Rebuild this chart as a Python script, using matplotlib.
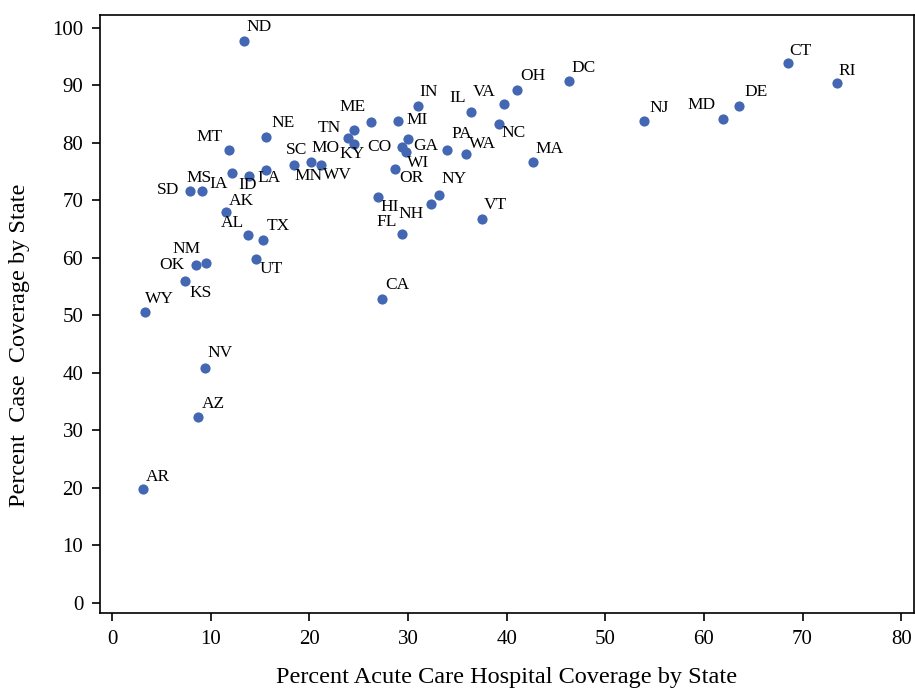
import matplotlib

matplotlib.use("Agg")
import matplotlib.pyplot as plt

# ---------- Data ----------
states = [
    "ND", "NE", "MT", "IA", "ID", "LA", "SD", "MS", "AK", "AL",
    "TX", "UT", "NM", "OK", "KS", "WY", "NV", "AZ", "AR", "SC",
    "MN", "WV", "TN", "MO", "KY", "ME", "MI", "GA", "CO", "WI",
    "OR", "HI", "FL", "NH", "NY", "VT", "CA", "IN", "IL", "VA",
    "OH", "NC", "PA", "WA", "MA", "DC", "NJ", "MD", "DE", "CT",
    "RI",
]
hospital_pct = [
    13.4, 15.6, 11.9, 12.2, 13.9, 15.6, 7.9, 9.1, 11.6, 13.8,
    15.3, 14.6, 9.5, 8.5, 7.4, 3.3, 9.4, 8.7, 3.1, 18.4,
    20.2, 21.2, 23.9, 24.5, 24.5, 26.3, 29.0, 30.0, 29.4, 29.8,
    28.7, 27.0, 29.4, 32.3, 33.1, 37.5, 27.4, 31.0, 36.4, 39.7,
    41.1, 39.2, 34.0, 35.9, 42.7, 46.3, 53.9, 61.9, 63.6, 68.5,
    73.5,
]
case_pct = [
    97.7, 81.1, 78.8, 74.8, 74.3, 75.3, 71.6, 71.7, 68.0, 63.9,
    63.1, 59.8, 59.1, 58.8, 55.9, 50.6, 40.8, 32.4, 19.8, 76.1,
    76.7, 76.1, 80.9, 82.3, 79.8, 83.6, 83.8, 80.6, 79.3, 78.4,
    75.5, 70.5, 64.1, 69.3, 71.0, 66.7, 52.9, 86.4, 85.4, 86.7,
    89.2, 83.2, 78.8, 78.1, 76.6, 90.8, 83.8, 84.2, 86.4, 93.8,
    90.4,
]

x_ticks = [0, 10, 20, 30, 40, 50, 60, 70, 80]
y_ticks = [0, 10, 20, 30, 40, 50, 60, 70, 80, 90, 100]

# ---------- Label placement (offsets from point, in points) ----------
LABEL_OFFSETS = {
    "ND": (11, 10), "NE": (12, 10), "MT": (-14, 9), "IA": (-10, -8),
    "ID": (-1, -7), "LA": (2, -6), "SD": (-16, 1), "MS": (-2, 9),
    "AK": (11, 8), "AL": (-11, 9), "TX": (11, 10), "UT": (11, -7),
    "NM": (-14, 10), "OK": (-17, 0), "KS": (11, -8), "WY": (11, 9),
    "NV": (11, 11), "AZ": (11, 9), "AR": (11, 9), "SC": (2, 11),
    "MN": (-2, -10), "WV": (12, -7), "TN": (-13, 7), "MO": (-20, -13),
    "KY": (-1, -7), "ME": (-14, 11), "MI": (14, 1), "GA": (13, -5),
    "CO": (-16, 0), "WI": (9, -8), "OR": (12, -7), "HI": (8, -7),
    "FL": (-11, 9), "NH": (-14, -7), "NY": (11, 11), "VT": (10, 10),
    "CA": (11, 10), "IN": (8, 10), "IL": (-10, 10), "VA": (-14, 9),
    "OH": (11, 10), "NC": (11, -6), "PA": (10, 11), "WA": (12, 7),
    "MA": (12, 10), "DC": (11, 9), "NJ": (11, 9), "MD": (-15, 10),
    "DE": (12, 10), "CT": (9, 9), "RI": (7, 9),
}

MARKER_COLOR = "#4467B3"
FONT = ["Liberation Serif", "DejaVu Serif"]

plt.rcParams["font.family"] = FONT

fig = plt.figure(figsize=(9.15, 6.88), dpi=100)
ax = fig.add_axes([0.1093, 0.109, 0.8896, 0.869])

ax.scatter(hospital_pct, case_pct, s=54, color=MARKER_COLOR, linewidths=0, zorder=3)

for name, xv, yv in zip(states, hospital_pct, case_pct):
    dx, dy = LABEL_OFFSETS[name]
    ax.annotate(
        name, (xv, yv),
        xytext=(dx, dy), textcoords="offset points",
        ha="center", va="center", fontsize=12.5, color="black",
    )

ax.set_xlim(-1.22, 81.3)
ax.set_ylim(-1.74, 102.2)
ax.set_xticks(x_ticks)
ax.set_yticks(y_ticks)
ax.tick_params(axis="both", direction="out", length=6, width=1.2,
               labelsize=15, pad=6, colors="black")

for side in ax.spines:
    ax.spines[side].set_linewidth(1.2)
    ax.spines[side].set_color("black")

ax.set_xlabel("Percent Acute Care Hospital Coverage by State", fontsize=17.5, labelpad=13)
ax.set_ylabel("Percent  Case  Coverage by State", fontsize=17.5)
ax.yaxis.set_label_coords(-0.086, 0.448)

fig.savefig("out.png", dpi=100)
